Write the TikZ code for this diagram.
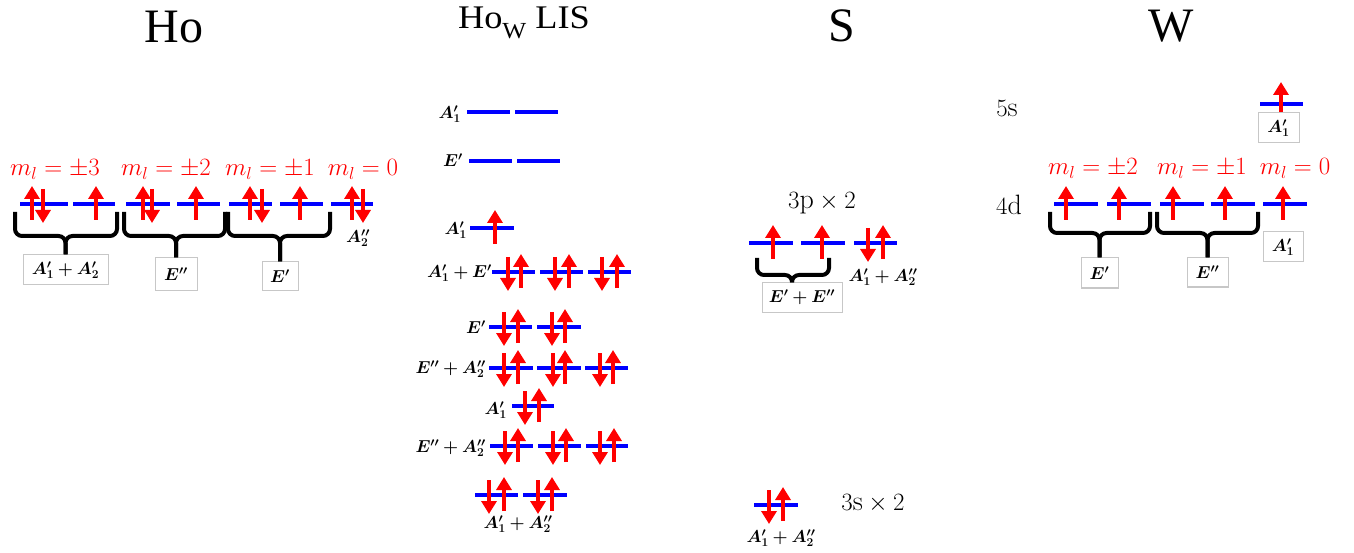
\documentclass[tikz,border=0pt]{standalone}
\usepackage{amsmath,bm}
\usepackage{fontspec}
\newfontfamily\tfont{Liberation Serif}
\usetikzlibrary{arrows.meta}
\tikzset{
  ttl/.style={font=\tfont\fontsize{48}{48}\selectfont, inner sep=0pt},
  orb/.style={draw=blue, line width=4.5pt},
  spin/.style={draw=red, line width=4.3pt, -{Triangle[width=15pt,length=13pt]}},
  ml/.style={text=red, font=\fontsize{23}{23}\selectfont, inner sep=0pt, anchor=base},
  sym/.style={font=\fontsize{17.5}{17.5}\selectfont, inner sep=0pt},
  lvl/.style={font=\fontsize{28}{28}\selectfont, inner sep=0pt, anchor=base},
  symbox/.style={draw=black!22, line width=1pt, fill=white, font=\fontsize{17.5}{17.5}\selectfont, inner sep=0pt},
  brc/.style={draw=black, line width=4pt, rounded corners=7pt},
}
\newcommand\orb[3]{\draw[orb] (#1,#3) -- (#2,#3);}
\newcommand\su[2]{\draw[spin] (#1,{#2+16}) -- (#1,{#2-18});}
\newcommand\sd[2]{\draw[spin] (#1,{#2-15}) -- (#1,{#2+19});}
\newcommand\obrace[5]{% left, right, top, horizontal, stem coordinate
  \draw[brc] (#1,#3) -- (#1,#4) -| (#5);
  \draw[brc] (#2,#3) -- (#2,#4) -| (#5);}
\begin{document}
\begin{tikzpicture}[x=1pt,y=-1pt]
\useasboundingbox[fill=white] (0,0) rectangle (1354,553);
% titles
\node[ttl, anchor=base] (tHo) at (174,43) {Ho};
\node[ttl, anchor=base, font=\tfont\fontsize{33}{33}\selectfont] (tLIS) at (524,29) {\scalebox{1.1}[1]{Ho\raisebox{-0.3em}{\fontsize{23}{23}\selectfont W} LIS}};
\node[ttl, anchor=base] (tS) at (842,42) {S};
\node[ttl, anchor=base] (tW) at (1171,42) {W};

% ---------------- Ho ----------------
\orb{20}{68}{204}\orb{73}{115}{204}\orb{126}{170}{204}\orb{177}{220}{204}
\orb{229}{272}{204}\orb{280}{323}{204}\orb{331}{373}{204}
\su{32}{204}\sd{43}{204}\su{96}{204}
\su{143}{204}\sd{152}{204}\su{196}{204}
\su{250}{204}\sd{262}{204}\su{300}{204}
\su{352}{204}\sd{363}{204}
\node[ml] (ho3) at (55,176) {$m_l=\pm3$};
\node[ml] (ho2) at (166,176) {$m_l=\pm2$};
\node[ml] (ho1) at (270,176) {$m_l=\pm1$};
\node[ml] (ho0) at (363,176) {$m_l=0$};
\node[symbox, minimum width=85pt, minimum height=30pt] (hb1) at (65.5,270) {$\boldsymbol{A'_1+A'_2}$};
\node[symbox, minimum width=42pt, minimum height=32pt] (hb2) at (176,274) {$\boldsymbol{E''}$};
\node[symbox, minimum width=36pt, minimum height=28pt] (hb3) at (280,276) {$\boldsymbol{E'}$};
\node[sym] (ha2) at (358,238) {$\boldsymbol{A''_2}$};
\obrace{15}{117}{212}{236}{hb1.north}
\obrace{124}{225}{212}{236}{hb2.north}
\obrace{228}{330}{212}{236}{hb3.north}

% ---------------- Ho_W LIS ----------------
\orb{467}{510}{112}\orb{515}{558}{112}
\orb{469}{512}{161}\orb{517}{560}{161}
\orb{470}{514}{228}\su{495}{228}
\orb{492}{535}{272}\orb{540}{583}{272}\orb{588}{631}{272}
\sd{508}{272}\su{521}{272}\sd{555}{272}\su{569}{272}\sd{602}{272}\su{617}{272}
\orb{489}{532}{327}\orb{537}{581}{327}
\sd{504}{327}\su{518}{327}\sd{552}{327}\su{565}{327}
\orb{489}{533}{368}\orb{537}{581}{368}\orb{585}{628}{368}
\sd{504}{368}\su{518}{368}\sd{553}{368}\su{565}{368}\sd{600}{368}\su{613}{368}
\orb{512}{554}{406}
\sd{525}{406}\su{539}{406}
\orb{490}{533}{446}\orb{538}{581}{446}\orb{586}{628}{446}
\sd{505}{446}\su{518}{446}\sd{553}{446}\su{566}{446}\sd{600}{446}\su{614}{446}
\orb{475}{518}{495}\orb{523}{567}{495}
\sd{489}{495}\su{504}{495}\sd{538}{495}\su{552}{495}
\node[sym, anchor=east] (l1) at (461,114) {$\boldsymbol{A'_1}$};
\node[sym, anchor=east] (l2) at (463,160) {$\boldsymbol{E'}$};
\node[sym, anchor=east] (l3) at (467,230) {$\boldsymbol{A'_1}$};
\node[sym, anchor=east] (l4) at (492,273) {$\boldsymbol{A'_1+E'}$};
\node[sym, anchor=east] (l5) at (486,327) {$\boldsymbol{E'}$};
\node[sym, anchor=east] (l6) at (486,369) {$\boldsymbol{E''+A''_2}$};
\node[sym, anchor=east] (l7) at (507,410) {$\boldsymbol{A'_1}$};
\node[sym, anchor=east] (l8) at (486,448) {$\boldsymbol{E''+A''_2}$};
\node[sym] (l9) at (518,524) {$\boldsymbol{A'_1+A''_2}$};

% ---------------- S ----------------
\node[lvl] (s3p) at (822,209) {$3\mathrm{p}\times2$};
\orb{749}{793}{243}\orb{801}{845}{243}\orb{854}{897}{243}
\su{773}{243}\su{822}{243}\sd{868}{243}\su{883}{243}
\node[symbox, minimum width=80pt, minimum height=29pt] (sb) at (802,297.5) {$\boldsymbol{E'+E''}$};
\coordinate (sstemx) at (792,0);
\coordinate (sstem) at (sstemx |- sb.north);
\obrace{757}{829}{258}{275}{sstem}
\node[sym] (sa) at (883,277) {$\boldsymbol{A'_1+A''_2}$};
\orb{754}{798}{505}
\sd{769}{505}\su{783}{505}
\node[lvl] (s3s) at (873,510) {$3\mathrm{s}\times2$};
\node[sym] (sa2) at (781,538) {$\boldsymbol{A'_1+A''_2}$};

% ---------------- W ----------------
\node[lvl] (w5s) at (1007,117) {$5\mathrm{s}$};
\node[lvl] (w4d) at (1009,215) {$4\mathrm{d}$};
\orb{1260}{1303}{104}
\draw[spin] (1281,114) -- (1281,82);
\node[symbox, minimum width=41pt, minimum height=30pt] (wb5) at (1278.5,128) {$\boldsymbol{A'_1}$};
\node[ml] (w2) at (1093,175) {$m_l=\pm2$};
\node[ml] (w1) at (1202,175) {$m_l=\pm1$};
\node[ml] (w0) at (1295,175) {$m_l=0$};
\orb{1054}{1098}{204}\orb{1107}{1151}{204}\orb{1160}{1204}{204}\orb{1211}{1255}{204}\orb{1263}{1307}{204}
\su{1066}{204}\su{1119}{204}\su{1173}{204}\su{1225}{204}\su{1283}{204}
\node[symbox, minimum width=37pt, minimum height=30pt] (wb1) at (1099.5,273) {$\boldsymbol{E'}$};
\node[symbox, minimum width=41pt, minimum height=29pt] (wb2) at (1207.5,272.5) {$\boldsymbol{E''}$};
\node[symbox, minimum width=40pt, minimum height=30pt] (wb3) at (1283,247) {$\boldsymbol{A'_1}$};
\obrace{1050}{1150}{212}{233}{wb1.north}
\obrace{1157}{1258}{212}{233}{wb2.north}
\end{tikzpicture}
\end{document}
